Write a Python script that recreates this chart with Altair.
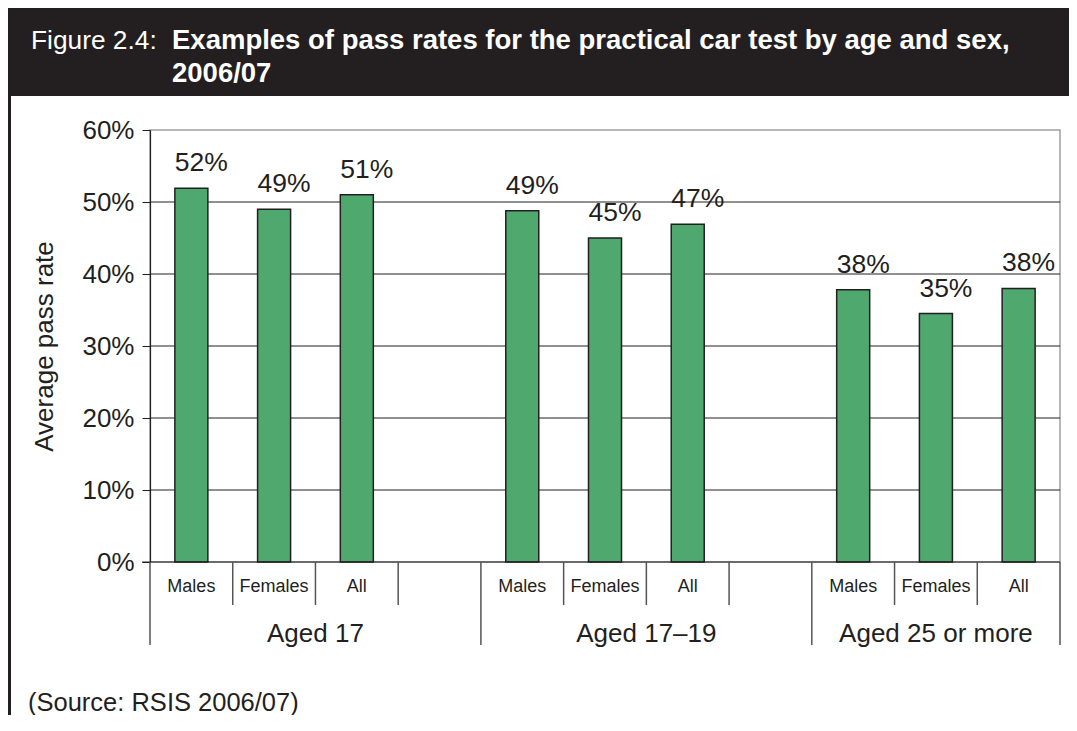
import altair as alt
import pandas as pd

# ---------------- data ----------------
groups = ["Aged 17", "Aged 17–19", "Aged 25 or more"]
sexes = ["Males", "Females", "All"]
pass_rates = [0.519, 0.490, 0.510, 0.488, 0.450, 0.469, 0.378, 0.345, 0.380]
rate_labels = ["52%", "49%", "51%", "49%", "45%", "47%", "38%", "35%", "38%"]
y_ticks = [0.0, 0.1, 0.2, 0.3, 0.4, 0.5, 0.6]
grid_values = [0.1, 0.2, 0.3, 0.4, 0.5]
figure_label = "Figure 2.4:"
title_lines = ["Examples of pass rates for the practical car test by age and sex,", "2006/07"]
source_text = "(Source: RSIS 2006/07)"
y_title = "Average pass rate"

# ---------------- layout helpers ----------------
SLOTS_PER_GROUP = 4          # 3 bars + 1 empty slot
N_SLOTS = len(groups) * SLOTS_PER_GROUP - 1
W, H = 910, 432
PAD = {"left": 142, "top": 122, "right": 9, "bottom": 153}
INK = "#231f20"
GREEN = "#4fa96f"

rows = []
for gi, g in enumerate(groups):
    for si, s in enumerate(sexes):
        k = gi * len(sexes) + si
        rows.append({"group": g, "sex": s, "pos": gi * SLOTS_PER_GROUP + si + 0.5,
                     "rate": pass_rates[k], "label": rate_labels[k]})
bars_df = pd.DataFrame(rows)

group_df = pd.DataFrame({
    "group": groups,
    "mid": [(gi * SLOTS_PER_GROUP + min(gi * SLOTS_PER_GROUP + SLOTS_PER_GROUP, N_SLOTS)) / 2
            for gi in range(len(groups))],
})

bounds = list(range(N_SLOTS + 1))
long_b = [b for b in bounds if b % SLOTS_PER_GROUP == 0 or b == N_SLOTS]
short_b = [b for b in bounds if b not in long_b]
long_df = pd.DataFrame({"b": long_b})
short_df = pd.DataFrame({"b": short_b})
grid_df = pd.DataFrame({"v": grid_values})
one = pd.DataFrame({"t": [""]})

FONT = "Liberation Sans"
xs = alt.Scale(domain=[0, N_SLOTS], nice=False, zero=False, padding=0)
ys = alt.Scale(domain=[0, 0.6], nice=False, padding=0)
y_axis = alt.Axis(values=y_ticks, format=".0%", title=y_title,
                  labelFont=FONT, labelFontSize=26, labelColor=INK,
                  titleFont=FONT, titleFontSize=26, titleFontWeight="normal",
                  titleColor=INK, titlePadding=24,
                  tickSize=8, tickColor=INK, domainColor=INK, domainWidth=1.2,
                  labelPadding=8, grid=False)

# banner
banner = alt.Chart(one).mark_rect(color=INK).encode(
    x=alt.value(-PAD["left"]), x2=alt.value(W + PAD["right"]),
    y=alt.value(-PAD["top"]), y2=alt.value(-34))
fig_lab = alt.Chart(pd.DataFrame({"t": [figure_label]})).mark_text(
    align="left", baseline="alphabetic", font=FONT, fontSize=26.3, color="white"
).encode(text="t:N", x=alt.value(-119), y=alt.value(-81))
title1 = alt.Chart(pd.DataFrame({"t": [title_lines[0]]})).mark_text(
    align="left", baseline="alphabetic", font=FONT, fontSize=27.5, fontWeight="bold", color="white"
).encode(text="t:N", x=alt.value(22), y=alt.value(-81))
title2 = alt.Chart(pd.DataFrame({"t": [title_lines[1]]})).mark_text(
    align="left", baseline="alphabetic", font=FONT, fontSize=27.5, fontWeight="bold", color="white"
).encode(text="t:N", x=alt.value(22), y=alt.value(-48))

left_border = alt.Chart(one).mark_rule(color=INK, strokeWidth=3).encode(
    x=alt.value(-140.5), y=alt.value(-34), y2=alt.value(H + PAD["bottom"]))

grid = alt.Chart(grid_df).mark_rule(color=INK, strokeWidth=1).encode(
    y=alt.Y("v:Q", scale=ys, axis=y_axis))

bars = alt.Chart(bars_df).mark_bar(size=33, color=GREEN, stroke=INK, strokeWidth=1.5).encode(
    x=alt.X("pos:Q", scale=xs, axis=None),
    y=alt.Y("rate:Q", scale=ys, axis=y_axis),
)

labels = alt.Chart(bars_df).mark_text(
    font=FONT, fontSize=26.5, color=INK, baseline="alphabetic", dy=-17, dx=10
).encode(x=alt.X("pos:Q", scale=xs, axis=None), y=alt.Y("rate:Q", scale=ys, axis=y_axis),
         text="label:N")

baseline = alt.Chart(one).mark_rule(color=INK, strokeWidth=1.2).encode(
    x=alt.value(-8), x2=alt.value(W), y=alt.value(H))

short_ticks = alt.Chart(short_df).mark_rule(color="#555555", strokeWidth=1.5).encode(
    x=alt.X("b:Q", scale=xs, axis=None), y=alt.value(H), y2=alt.value(H + 43))
long_ticks = alt.Chart(long_df).mark_rule(color="#555555", strokeWidth=1.5).encode(
    x=alt.X("b:Q", scale=xs, axis=None), y=alt.value(H), y2=alt.value(H + 83))

sub_labels = alt.Chart(bars_df).mark_text(
    font=FONT, fontSize=18, color=INK, baseline="middle"
).encode(x=alt.X("pos:Q", scale=xs, axis=None), y=alt.value(H + 25), text="sex:N")

grp_labels = alt.Chart(group_df).mark_text(
    font=FONT, fontSize=26, color=INK, baseline="middle"
).encode(x=alt.X("mid:Q", scale=xs, axis=None), y=alt.value(H + 72), text="group:N")

source = alt.Chart(pd.DataFrame({"t": [source_text]})).mark_text(
    font=FONT, fontSize=25.5, color=INK, align="left", baseline="middle"
).encode(x=alt.value(-122), y=alt.value(H + 141), text="t:N")

chart = alt.layer(
    banner, fig_lab, title1, title2, left_border, grid, bars, labels, baseline,
    short_ticks, long_ticks, sub_labels, grp_labels, source
).properties(
    width=W, height=H,
    autosize=alt.AutoSizeParams(type="none"),
    padding=PAD,
    background="white",
).configure_view(stroke="#a0a0a0", strokeWidth=1.5)

chart.save("out.html", embed_options={"renderer": "svg", "actions": False})
